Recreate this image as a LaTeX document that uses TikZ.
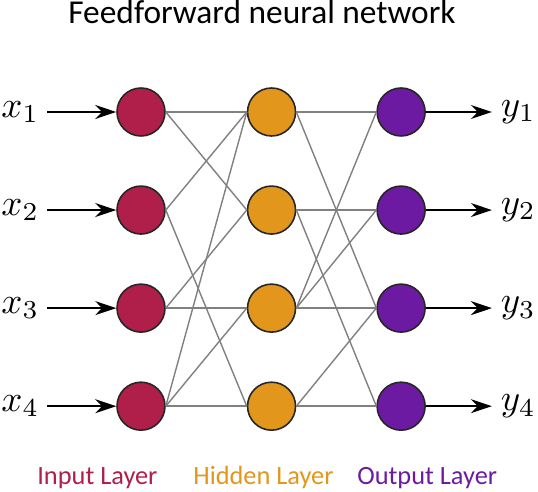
\RequirePackage{fix-cm}
\documentclass[tikz,border=0pt]{standalone}
\usepackage{fontspec}
\usepackage{graphicx}
\usepackage{xcolor}
\usepackage{tikz}
\usetikzlibrary{arrows.meta,positioning}

\newfontfamily\labelfont{Carlito}
\definecolor{incol}{RGB}{176,30,74}
\definecolor{hidcol}{RGB}{227,150,28}
\definecolor{outcol}{RGB}{108,26,162}
\newcommand{\bigsym}[1]{\scalebox{2.1}{$#1$}}

\begin{document}
\begin{tikzpicture}[
    x=0.02cm, y=-0.02cm,
    neuron/.style={circle, draw=black!85, line width=0.9pt, minimum size=0.96cm, inner sep=0pt},
    sym/.style={inner sep=1pt},
    layer/.style={anchor=base west, inner sep=0pt, font=\labelfont\fontsize{15}{18}\selectfont},
    link/.style={draw=black!50, line width=0.8pt},
    feed/.style={-{Stealth[length=0.42cm, width=0.28cm]}, line width=0.8pt},
]
\useasboundingbox (0,0) rectangle (538,492);

\node[anchor=base, inner sep=0pt, font=\labelfont\fontsize{19}{22}\selectfont] (title) at (262,24) {Feedforward neural network};

% input layer
\node[neuron, fill=incol] (in1) at (141,112) {};
\node[neuron, fill=incol, below=0.97cm of in1] (in2) {};
\node[neuron, fill=incol, below=0.97cm of in2] (in3) {};
\node[neuron, fill=incol, below=0.97cm of in3] (in4) {};

% hidden layer
\node[neuron, fill=hidcol, right=1.62cm of in1] (hid1) {};
\node[neuron, fill=hidcol, right=1.62cm of in2] (hid2) {};
\node[neuron, fill=hidcol, right=1.62cm of in3] (hid3) {};
\node[neuron, fill=hidcol, right=1.62cm of in4] (hid4) {};

% output layer
\node[neuron, fill=outcol, right=1.6cm of hid1] (out1) {};
\node[neuron, fill=outcol, right=1.6cm of hid2] (out2) {};
\node[neuron, fill=outcol, right=1.6cm of hid3] (out3) {};
\node[neuron, fill=outcol, right=1.6cm of hid4] (out4) {};

% inputs and outputs
\node[sym, left=1.5cm of in1] (x1) {\bigsym{x_1}};
\node[sym, left=1.5cm of in2] (x2) {\bigsym{x_2}};
\node[sym, left=1.5cm of in3] (x3) {\bigsym{x_3}};
\node[sym, left=1.5cm of in4] (x4) {\bigsym{x_4}};
\node[sym, right=1.46cm of out1] (y1) {\bigsym{y_1}};
\node[sym, right=1.46cm of out2] (y2) {\bigsym{y_2}};
\node[sym, right=1.46cm of out3] (y3) {\bigsym{y_3}};
\node[sym, right=1.46cm of out4] (y4) {\bigsym{y_4}};

\draw[feed, shorten <=0.12cm] (x1) -- (in1);
\draw[feed, shorten <=0.12cm] (x2) -- (in2);
\draw[feed, shorten <=0.12cm] (x3) -- (in3);
\draw[feed, shorten <=0.12cm] (x4) -- (in4);
\draw[feed, shorten >=0.14cm] (out1) -- (y1);
\draw[feed, shorten >=0.14cm] (out2) -- (y2);
\draw[feed, shorten >=0.14cm] (out3) -- (y3);
\draw[feed, shorten >=0.14cm] (out4) -- (y4);

% input -> hidden
\draw[link] (in1.east) -- (hid1.west);
\draw[link] (in1.east) -- (hid2.west);
\draw[link] (in2.east) -- (hid1.west);
\draw[link] (in2.east) -- (hid4.west);
\draw[link] (in3.east) -- (hid2.west);
\draw[link] (in3.east) -- (hid3.west);
\draw[link] (in4.east) -- (hid1.west);
\draw[link] (in4.east) -- (hid3.west);
\draw[link] (in4.east) -- (hid4.west);

% hidden -> output
\draw[link] (hid1.east) -- (out1.west);
\draw[link] (hid1.east) -- (out3.west);
\draw[link] (hid2.east) -- (out2.west);
\draw[link] (hid2.east) -- (out4.west);
\draw[link] (hid3.east) -- (out1.west);
\draw[link] (hid3.east) -- (out2.west);
\draw[link] (hid3.east) -- (out3.west);
\draw[link] (hid4.east) -- (out3.west);
\draw[link] (hid4.east) -- (out4.west);

\node[layer, text=incol] (inlabel) at (37,485) {Input Layer};
\node[layer, text=hidcol] (hidlabel) at (193,485) {Hidden Layer};
\node[layer, text=outcol] (outlabel) at (357,485) {Output Layer};
\end{tikzpicture}
\end{document}
